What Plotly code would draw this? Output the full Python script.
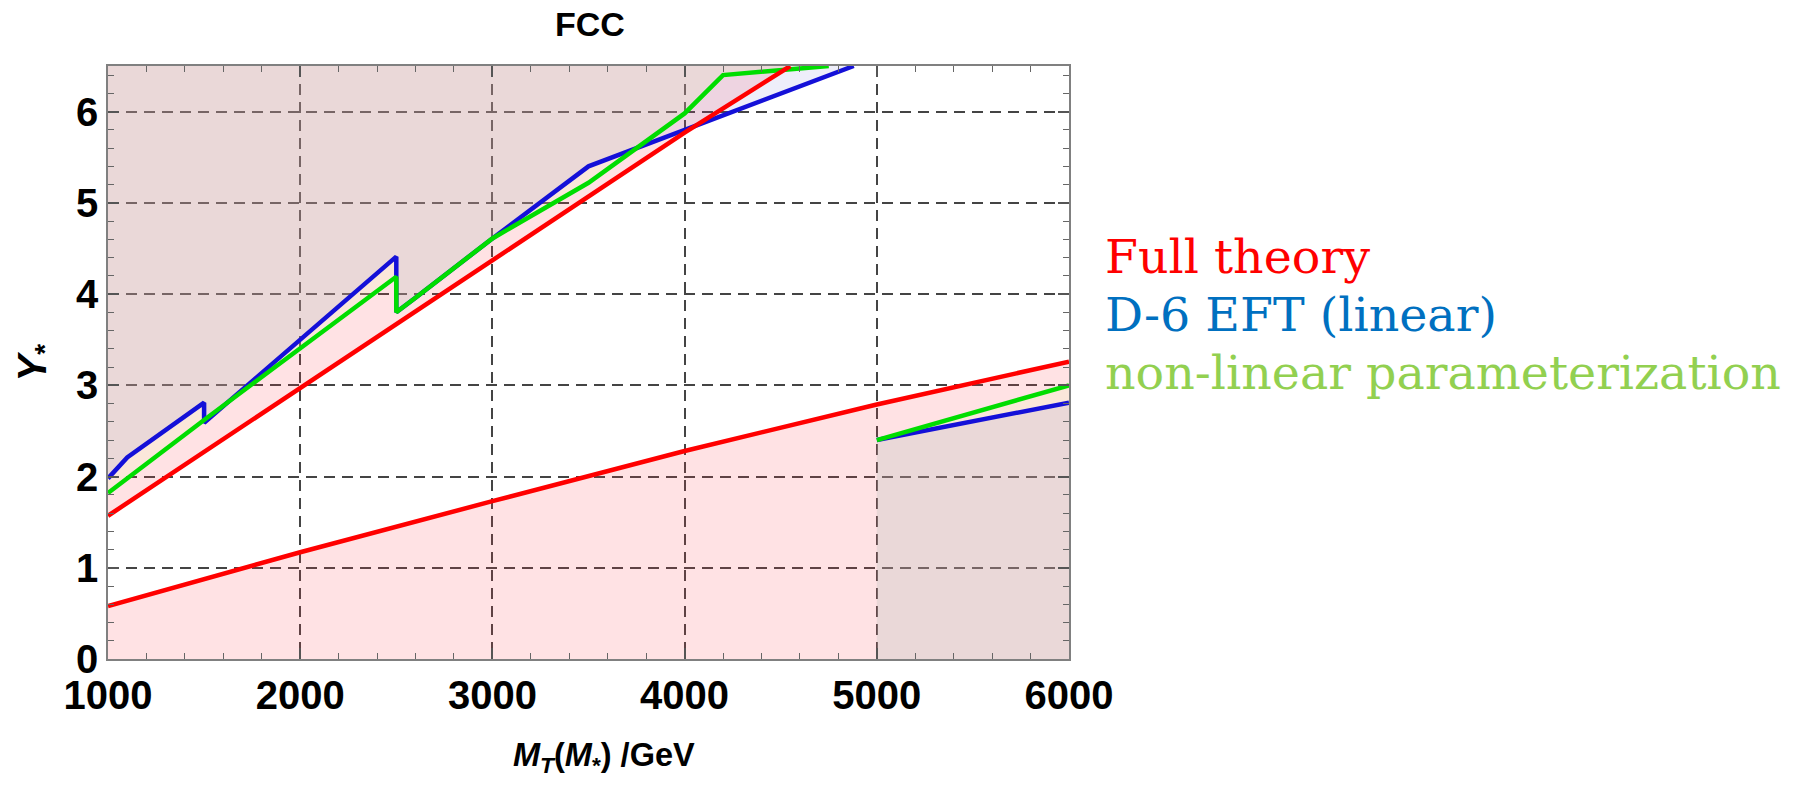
import plotly.graph_objects as go

# ---------------- data ----------------
X_MIN, X_MAX = 1000, 6000
Y_MIN, Y_MAX = 0, 6.5

# Full theory (red)
mt_red_up = [1000, 2000, 3000, 4000, 4550]
y_red_up = [1.57, 2.97, 4.37, 5.77, 6.5]
mt_red_lo = [1000, 2000, 3000, 4000, 5000, 6000]
y_red_lo = [0.58, 1.17, 1.73, 2.28, 2.79, 3.26]

# D-6 EFT linear (blue)
mt_blue_up = [1000, 1100, 1500, 1500, 2500, 2500, 2600, 3000, 3500, 4880]
y_blue_up = [1.98, 2.21, 2.81, 2.59, 4.41, 3.80, 3.96, 4.61, 5.40, 6.5]
mt_blue_lo = [5000, 6000]
y_blue_lo = [2.40, 2.81]

# non-linear parameterization (green)
mt_green_up = [1000, 1500, 2500, 2500, 2600, 3000, 3500, 4000, 4200, 4750]
y_green_up = [1.82, 2.62, 4.19, 3.80, 3.96, 4.61, 5.22, 5.98, 6.40, 6.5]
mt_green_lo = [5000, 6000]
y_green_lo = [2.40, 3.00]

x_ticks = [1000, 2000, 3000, 4000, 5000, 6000]
y_ticks = [0, 1, 2, 3, 4, 5, 6]

legend_labels = ["Full theory", "D-6 EFT (linear)", "non-linear parameterization"]
legend_colors = ["#FF0000", "#0070C0", "#92D050"]

# ---------------- styles ----------------
RED_LINE = "#FF0000"
BLUE_LINE = "#1410D8"
GREEN_LINE = "#00DD00"
RED_FILL = "rgba(255,62,75,0.15)"
GREEN_FILL = "rgba(233,254,180,0.2)"
BLUE_FILL = "rgba(85,85,205,0.1)"
LW = 4.5

fig = go.Figure()


def upper_region(xs, ys, fill):
    fig.add_trace(go.Scatter(
        x=list(xs) + [xs[-1], xs[0]],
        y=list(ys) + [Y_MAX, Y_MAX],
        mode="lines", fill="toself", fillcolor=fill,
        line=dict(width=0), hoverinfo="skip", showlegend=False))


def lower_region(xs, ys, fill):
    fig.add_trace(go.Scatter(
        x=[xs[0]] + list(xs) + [xs[-1]],
        y=[Y_MIN] + list(ys) + [Y_MIN],
        mode="lines", fill="toself", fillcolor=fill,
        line=dict(width=0), hoverinfo="skip", showlegend=False))


# excluded regions (semi-transparent overlays)
upper_region(mt_red_up, y_red_up, RED_FILL)
lower_region(mt_red_lo, y_red_lo, RED_FILL)
upper_region(mt_green_up, y_green_up, GREEN_FILL)
lower_region(mt_green_lo, y_green_lo, GREEN_FILL)
upper_region(mt_blue_up, y_blue_up, BLUE_FILL)
lower_region(mt_blue_lo, y_blue_lo, BLUE_FILL)


def line(xs, ys, color):
    fig.add_trace(go.Scatter(x=xs, y=ys, mode="lines",
                             line=dict(color=color, width=LW),
                             hoverinfo="skip", showlegend=False))


line(mt_blue_up, y_blue_up, BLUE_LINE)
line(mt_blue_lo, y_blue_lo, BLUE_LINE)
line(mt_green_up, y_green_up, GREEN_LINE)
line(mt_green_lo, y_green_lo, GREEN_LINE)
line(mt_red_up, y_red_up, RED_LINE)
line(mt_red_lo, y_red_lo, RED_LINE)

tickfont = dict(family="Liberation Sans, Arial, sans-serif", size=40,
                color="black", weight="bold")
axis_common = dict(
    showline=True, linecolor="#808080", linewidth=1.5, mirror="allticks",
    ticks="inside", ticklen=11, tickwidth=1.5, tickcolor="#555555",
    showgrid=True, gridcolor="#444444", gridwidth=1.5, griddash="11px,7px",
    zeroline=False, tickfont=tickfont,
)

fig.update_xaxes(range=[X_MIN, X_MAX], tickvals=x_ticks,
                 ticktext=[str(v) for v in x_ticks],
                 minor=dict(dtick=200, ticks="inside", ticklen=6,
                            tickwidth=1.2, tickcolor="#666666", showgrid=False),
                 **axis_common)
fig.update_yaxes(range=[Y_MIN, Y_MAX], tickvals=y_ticks,
                 ticktext=[str(v) for v in y_ticks],
                 minor=dict(dtick=0.2, ticks="inside", ticklen=6,
                            tickwidth=1.2, tickcolor="#666666", showgrid=False),
                 **axis_common)

annotations = [
    dict(text="<b>FCC</b>", x=0.5016, y=1.070, xref="paper", yref="paper",
         showarrow=False, xanchor="center", yanchor="middle",
         font=dict(family="Liberation Sans, Arial, sans-serif", size=34, color="black")),
    dict(text="<b><i>M</i><sub><i>T</i></sub>(<i>M</i><sub>*</sub>) /GeV</b>",
         x=0.516, y=-0.166, xref="paper", yref="paper",
         showarrow=False, xanchor="center", yanchor="middle",
         font=dict(family="Liberation Sans, Arial, sans-serif", size=32.5, color="black")),
    dict(text="<b><i>Y</i><sub>*</sub></b>", x=-0.077, y=0.5,
         xref="paper", yref="paper", textangle=-90,
         showarrow=False, xanchor="center", yanchor="middle",
         font=dict(family="Liberation Sans, Arial, sans-serif", size=40, color="black")),
]

legend_y_px = [257, 315, 373]
for lab, col, ypx in zip(legend_labels, legend_colors, legend_y_px):
    annotations.append(dict(
        text=lab, x=1.035, y=(659.5 - ypx) / 593.0, xref="paper", yref="paper",
        showarrow=False, xanchor="left", yanchor="middle",
        font=dict(family="DejaVu Serif, serif", size=47.5, color=col)))

fig.update_layout(
    width=1808, height=785,
    margin=dict(l=108, r=739, t=66, b=126),
    paper_bgcolor="white", plot_bgcolor="white",
    showlegend=False,
    annotations=annotations,
)

fig.write_html("out.html")
